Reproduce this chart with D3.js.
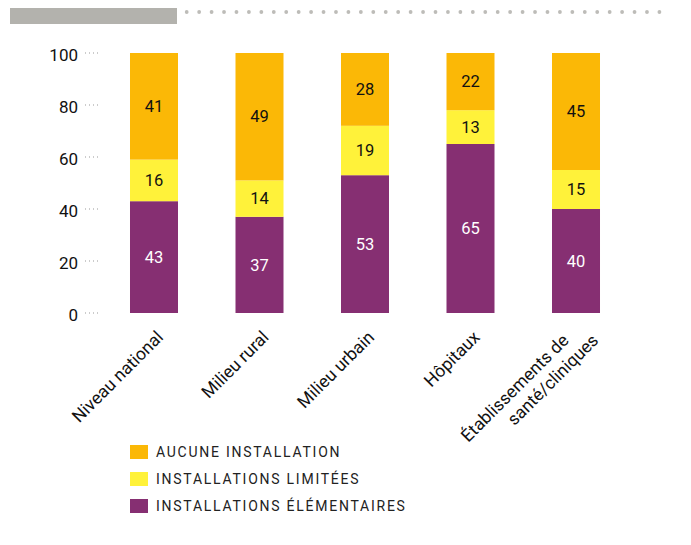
<!DOCTYPE html>
<html><head><meta charset="utf-8">
<script src="https://cdn.jsdelivr.net/npm/d3@7"></script>
<style>
body{margin:0;background:#fff;}
text{font-family:Roboto, "Noto Sans", sans-serif;}
</style></head>
<body><svg id="c" width="691" height="545"></svg>
<script>
const categories = [["Niveau national"],["Milieu rural"],["Milieu urbain"],["Hôpitaux"],["Établissements de","santé/cliniques"]];
const seriesNames = ["INSTALLATIONS ÉLÉMENTAIRES","INSTALLATIONS LIMITÉES","AUCUNE INSTALLATION"];
const elementaires = [43,37,53,65,40];
const limitees = [16,14,19,13,15];
const aucune = [41,49,28,22,45];
const yTicks = [0,20,40,60,80,100];
const colors = ["#862F72","#FFF23A","#FBB806"];
const labelColors = ["#ffffff","#111111","#111111"];

const svg = d3.select("#c");
// header decoration
svg.append("rect").attr("x",10).attr("y",8).attr("width",167).attr("height",16).attr("fill","#b3b2ad");
svg.append("g").selectAll("circle").data(d3.range(39)).join("circle")
  .attr("cx",d=>186.7+d*12.44).attr("cy",12).attr("r",1.9).attr("fill","#bdbcb8");

const x = d3.scaleBand().domain(d3.range(categories.length)).range([72.5,657.5]).padding(0.545);
const y = d3.scaleLinear().domain([0,100]).range([313,53]);

// y axis
const ya = svg.append("g");
yTicks.forEach(t=>{
  ya.append("line").attr("x1",85).attr("x2",101).attr("y1",y(t)).attr("y2",y(t))
    .attr("stroke","#999").attr("stroke-width",1).attr("stroke-dasharray","1,3");
  ya.append("text").attr("x",78).attr("y",y(t)+2).attr("dy","0.35em").attr("text-anchor","end")
    .attr("font-size",17).attr("fill","#111").text(t);
});

const series = [elementaires, limitees, aucune];
const stacked = series.map((s,i)=>s.map((v,j)=>{
  const y0 = d3.sum(series.slice(0,i), ss=>ss[j]);
  return {i, j, v, y0, y1:y0+v};
}));
stacked.forEach((ser,i)=>{
  const g = svg.append("g");
  g.selectAll("rect").data(ser).join("rect")
    .attr("x",d=>x(d.j)).attr("width",x.bandwidth())
    .attr("y",d=>y(d.y1)).attr("height",d=>y(d.y0)-y(d.y1))
    .attr("fill",colors[i]);
  g.selectAll("text").data(ser).join("text")
    .attr("x",d=>x(d.j)+x.bandwidth()/2).attr("y",d=>(y(d.y0)+y(d.y1))/2)
    .attr("dy","0.35em").attr("text-anchor","middle").attr("font-size",16.5)
    .attr("fill",labelColors[i]).text(d=>d.v);
});

// x labels
const fs = 17.5;
categories.forEach((lines,j)=>{
  const cx = x(j)+x.bandwidth()/2;
  const g = svg.append("g").attr("transform",`translate(${cx+6},${334}) rotate(-45)`);
  if(lines.length===1){
    g.append("text").attr("text-anchor","end").attr("dy","0.35em").attr("font-size",fs)
      .attr("fill","#111").text(lines[0]);
  } else {
    g.append("text").attr("text-anchor","end").attr("font-size",fs).attr("fill","#111")
      .attr("x",-14).attr("y",-9.5).attr("dy","0.35em").text(lines[0]);
    g.append("text").attr("text-anchor","end").attr("font-size",fs).attr("fill","#111")
      .attr("x",7).attr("y",11.5).attr("dy","0.35em").text(lines[1]);
  }
});

// legend
const legendOrder = [2,1,0];
legendOrder.forEach((si,k)=>{
  const yy = 452 + k*27;
  svg.append("rect").attr("x",130).attr("y",yy-7).attr("width",18).attr("height",14).attr("fill",colors[si]);
  svg.append("text").attr("x",156).attr("y",yy).attr("dy","0.35em").attr("font-size",14)
    .attr("letter-spacing","1.75px").attr("fill","#222").text(seriesNames[si]);
});
</script></body></html>
